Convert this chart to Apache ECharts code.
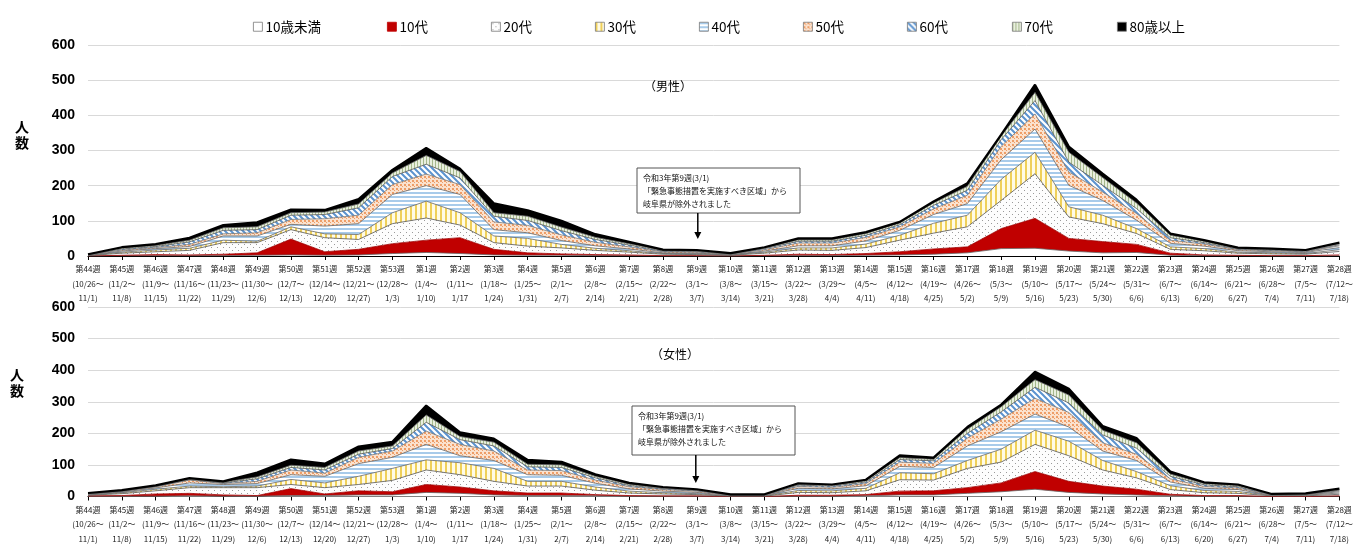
<!DOCTYPE html>
<html><head><meta charset="utf-8">
<script src="https://cdn.jsdelivr.net/npm/echarts@6/dist/echarts.min.js"></script>
<style>html,body{margin:0;padding:0;background:#fff}#c{width:1356px;height:546px}</style>
</head><body><div id="c"></div>
<script>
const weeks = ['第44週','第45週','第46週','第47週','第48週','第49週','第50週','第51週','第52週','第53週','第1週','第2週','第3週','第4週','第5週','第6週','第7週','第8週','第9週','第10週','第11週','第12週','第13週','第14週','第15週','第16週','第17週','第18週','第19週','第20週','第21週','第22週','第23週','第24週','第25週','第26週','第27週','第28週'];
const ranges = ['(10/26～\n11/1)','(11/2～\n11/8)','(11/9～\n11/15)','(11/16～\n11/22)','(11/23～\n11/29)','(11/30～\n12/6)','(12/7～\n12/13)','(12/14～\n12/20)','(12/21～\n12/27)','(12/28～\n1/3)','(1/4～\n1/10)','(1/11～\n1/17','(1/18～\n1/24)','(1/25～\n1/31)','(2/1～\n2/7)','(2/8～\n2/14)','(2/15～\n2/21)','(2/22～\n2/28)','(3/1～\n3/7)','(3/8～\n3/14)','(3/15～\n3/21)','(3/22～\n3/28)','(3/29～\n4/4)','(4/5～\n4/11)','(4/12～\n4/18)','(4/19～\n4/25)','(4/26～\n5/2)','(5/3～\n5/9)','(5/10～\n5/16)','(5/17～\n5/23)','(5/24～\n5/30)','(5/31～\n6/6)','(6/7～\n6/13)','(6/14～\n6/20)','(6/21～\n6/27)','(6/28～\n7/4)','(7/5～\n7/11)','(7/12～\n7/18)'];
const ageGroups = ['10歳未満','10代','20代','30代','40代','50代','60代','70代','80歳以上'];
const yTicks = [0,100,200,300,400,500,600];

// Male (男性)
const m_u10 = [0,1,1,1,1,2,3,2,3,7,10,7,3,2,2,1,1,0,0,0,1,1,1,2,3,5,9,21,22,14,9,10,2,1,1,0,0,1];
const m_10  = [0,1,3,2,4,7,45,10,16,28,35,45,16,7,4,3,2,1,1,0,1,4,3,5,9,15,17,57,85,36,32,23,6,2,1,1,1,2];
const m_20  = [1,6,8,13,33,29,27,40,28,57,63,36,19,19,17,12,8,4,3,2,6,12,12,17,33,45,57,80,127,61,51,31,11,12,6,5,4,10];
const m_30  = [1,3,5,6,7,4,8,11,14,31,48,35,19,22,10,6,4,2,2,1,3,6,7,10,14,28,33,60,61,29,24,14,7,6,3,3,2,5];
const m_40  = [1,3,4,5,12,15,7,22,31,52,44,52,18,16,11,7,5,2,2,1,3,6,6,9,14,25,33,56,66,61,42,24,10,7,4,3,3,6];
const m_50  = [1,3,3,6,6,9,14,21,24,28,33,28,22,21,16,10,6,3,3,1,4,8,8,10,10,16,24,38,43,38,24,19,9,6,3,3,2,5];
const m_60  = [0,3,3,7,10,9,12,12,21,23,28,19,16,14,12,8,5,2,2,1,3,5,5,6,6,10,14,19,38,28,19,14,7,4,2,2,2,3];
const m_70  = [1,3,3,5,7,8,7,7,11,10,25,18,10,12,10,6,4,2,2,1,2,4,4,5,5,7,11,10,23,28,22,16,7,4,2,2,2,3];
const m_80  = [0,2,4,7,8,13,9,6,14,9,21,8,27,17,18,9,5,2,2,1,2,4,4,4,3,4,9,4,22,16,11,9,5,3,2,2,1,3];

// Female (女性)
const f_u10 = [1,1,1,2,1,1,3,3,5,5,13,10,5,3,3,2,1,1,1,0,0,1,1,2,5,5,10,15,23,13,8,5,2,1,1,0,0,1];
const f_10  = [1,2,7,8,4,2,22,5,13,10,25,20,13,8,8,4,2,1,1,0,0,3,3,4,12,13,18,28,56,35,25,18,5,2,2,0,0,1];
const f_20  = [2,6,10,18,23,25,13,20,20,36,46,39,30,22,22,14,8,6,4,1,1,9,8,12,36,34,61,66,86,81,51,36,15,9,7,2,2,5];
const f_30  = [1,3,5,5,3,5,16,15,26,38,32,38,41,15,15,10,6,4,3,1,1,6,6,8,22,20,25,41,45,46,30,20,12,7,6,1,2,4];
const f_40  = [2,2,4,10,7,8,15,21,40,35,49,22,25,21,19,12,7,5,4,1,1,7,6,8,20,20,46,55,51,45,30,35,12,7,6,1,1,4];
const f_50  = [1,2,3,9,3,7,15,10,20,20,42,36,30,15,15,10,7,5,4,1,1,6,5,7,14,13,25,40,50,46,26,20,10,6,5,1,1,3];
const f_60  = [1,1,2,2,2,8,8,10,10,8,28,15,16,10,10,7,4,3,2,1,1,4,4,5,8,8,15,23,35,30,25,19,8,5,4,1,1,2];
const f_70  = [1,1,1,2,2,6,7,8,10,8,23,10,12,8,8,5,4,2,2,1,1,3,3,4,6,5,13,16,24,25,15,17,7,4,4,1,1,2];
const f_80  = [1,2,2,2,3,14,18,12,14,13,30,13,11,14,10,6,4,3,2,1,1,3,2,3,7,5,7,7,25,20,13,15,8,4,3,1,2,3];

const maleData = [m_u10,m_10,m_20,m_30,m_40,m_50,m_60,m_70,m_80];
const femaleData = [f_u10,f_10,f_20,f_30,f_40,f_50,f_60,f_70,f_80];

function pat(w,h,bg,draw){const c=document.createElement('canvas');c.width=w;c.height=h;const g=c.getContext('2d');g.fillStyle=bg;g.fillRect(0,0,w,h);if(draw)draw(g);return {image:c,repeat:'repeat'};}
const fills = [
  '#ffffff',
  '#C00000',
  pat(6,6,'#fdfdfd',g=>{g.fillStyle='#9a9a9a';g.fillRect(1,1,1,1);g.fillRect(4,4,1,1);}),
  pat(5,4,'#fffbe6',g=>{g.fillStyle='#EFD05A';g.fillRect(0,0,2,4);}),
  pat(4,4,'#ffffff',g=>{g.fillStyle='#A8CBEA';g.fillRect(0,0,4,2);}),
  pat(4,4,'#FBE2CE',g=>{g.fillStyle='#EE9E68';g.fillRect(0,0,2,2);g.fillRect(2,2,1,1);}),
  pat(6,6,'#ffffff',g=>{g.strokeStyle='#5B93CF';g.lineWidth=2;g.beginPath();g.moveTo(-1,-1);g.lineTo(7,7);g.moveTo(-4,2);g.lineTo(4,10);g.moveTo(2,-4);g.lineTo(10,4);g.stroke();}),
  pat(3,4,'#E9EFDF',g=>{g.fillStyle='#A6B98C';g.fillRect(0,0,1,4);}),
  '#000000'
];
const lineCols = ['#666','#A00000','#555','#666','#666','#777','#555','#666','#000'];
const lineW = [0.8,0.8,0.8,0.8,0.8,0.8,0.8,0.8,2.2];

const cjk = '"Noto Sans CJK JP", sans-serif';
const chart = echarts.init(document.getElementById('c'));

const grids = [
  {left:88,right:15,top:45,height:211},
  {left:88,right:15,top:307,height:198}
];
function xAx(gi){return {type:'category',gridIndex:gi,data:weeks,boundaryGap:false,
  axisLine:{lineStyle:{color:'#000',width:1.2}},
  axisTick:{show:true,length:4,lineStyle:{color:'#000'}},
  axisLabel:{interval:0,fontSize:8,lineHeight:14.5,color:'#222',fontFamily:cjk,margin:6,
    formatter:(v,i)=>v+'\n'+ranges[i]}};}
function yAx(gi){return {type:'value',gridIndex:gi,min:yTicks[0],max:yTicks[yTicks.length-1],interval:100,
  axisLine:{show:false},axisTick:{show:false},
  splitLine:{lineStyle:{color:'#d9d9d9',width:1}},
  axisLabel:{fontSize:14,fontWeight:'bold',color:'#000',fontFamily:'"Liberation Sans", Arial, sans-serif',margin:13}};}

const series=[];
[maleData,femaleData].forEach((dset,gi)=>{
  dset.forEach((arr,k)=>{
    series.push({name:ageGroups[k],type:'line',stack:gi?'f':'m',xAxisIndex:gi,yAxisIndex:gi,
      data:arr,showSymbol:false,symbol:'none',smooth:false,silent:true,
      lineStyle:{color:lineCols[k],width:lineW[k]},
      itemStyle:{color:lineCols[k]},
      areaStyle:{color:fills[k],opacity:1},z:2});
  });
});

const legX=[248,382,486,590,694,798,902,1007,1112];
const legends = ageGroups.map((n,k)=>({left:legX[k],top:15,icon:'rect',itemWidth:9,itemHeight:9,itemGap:4,
  data:[{name:n,itemStyle:{color:fills[k],borderColor:k===1?'#C00000':'#777',borderWidth:0.8}}],
  textStyle:{fontSize:13.5,color:'#000',fontFamily:cjk,padding:[0,0,0,-2]},selectedMode:false}));

chart.setOption({
  animation:false,
  grid:grids,
  xAxis:[xAx(0),xAx(1)],
  yAxis:[yAx(0),yAx(1)],
  legend:legends,
  series:series
});

const note = '令和3年第9週(3/1)\n「緊急事態措置を実施すべき区域」から\n岐阜県が除外されました';
const ax = chart.convertToPixel({xAxisIndex:0},'第9週');
function box(x,y,w,h,arrowX,arrowY2){
  return [
    {type:'rect',shape:{x:x,y:y,width:w,height:h},style:{fill:'#fff',stroke:'#555',lineWidth:1},z:10},
    {type:'text',x:x+6,y:y+3,style:{text:note,fontSize:8,lineHeight:13,fill:'#111',fontFamily:cjk},z:11},
    {type:'line',shape:{x1:arrowX,y1:y+h,x2:arrowX,y2:arrowY2-6},style:{stroke:'#000',lineWidth:1.5},z:11},
    {type:'polygon',shape:{points:[[arrowX-3.5,arrowY2-7],[arrowX+3.5,arrowY2-7],[arrowX,arrowY2]]},style:{fill:'#000'},z:11}
  ];
}
chart.setOption({graphic:[
  {type:'text',x:668,y:86,style:{text:'（男性）',fontSize:12,fill:'#000',fontFamily:cjk,align:'center',verticalAlign:'middle'}},
  {type:'text',x:675,y:354,style:{text:'（女性）',fontSize:12,fill:'#000',fontFamily:cjk,align:'center',verticalAlign:'middle'}},
  {type:'text',x:22,y:135,style:{text:'人\n数',fontSize:14,fontWeight:'bold',lineHeight:16,fill:'#000',fontFamily:cjk,align:'center',verticalAlign:'middle'}},
  {type:'text',x:17,y:383,style:{text:'人\n数',fontSize:14,fontWeight:'bold',lineHeight:16,fill:'#000',fontFamily:cjk,align:'center',verticalAlign:'middle'}},
  ...box(637,168,163,45,ax+1,239),
  ...box(632,406,163,49,ax-1,483)
]});
</script></body></html>
